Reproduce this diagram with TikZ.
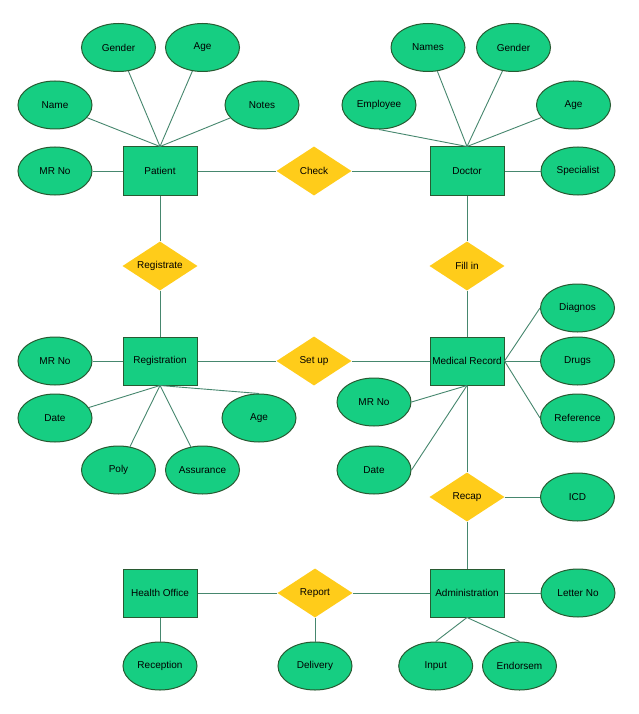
\documentclass[tikz,border=0pt]{standalone}
\usepackage{fontspec}
\setmainfont{Liberation Sans}
\usetikzlibrary{shapes.geometric}
\definecolor{entfill}{RGB}{22,206,130}
\definecolor{entline}{RGB}{40,90,50}
\definecolor{relfill}{RGB}{255,204,26}
\definecolor{conn}{RGB}{70,135,110}
\tikzset{
  ent/.style={rectangle,draw=entline,fill=entfill,line width=1pt,minimum width=74pt,minimum height=48pt,inner sep=0pt,font=\fontsize{10}{12}\selectfont},
  attr/.style={ellipse,draw=entline,fill=entfill,line width=1pt,minimum width=74pt,minimum height=48pt,inner sep=0pt,font=\fontsize{10}{12}\selectfont},
  rel/.style={diamond,fill=relfill,draw=none,minimum width=75pt,minimum height=49pt,inner sep=0pt,aspect=1.53,font=\fontsize{10}{12}\selectfont},
  con/.style={draw=conn,line width=0.9pt}
}
\begin{document}
\begin{tikzpicture}[x=1pt,y=-1pt]
\useasboundingbox[fill=white] (0,0) rectangle (638,714);
% entities
\node[ent] (patient) at (160,171) {Patient};
\node[ent] (doctor) at (467,171) {Doctor};
\node[ent] (registration) at (160,361) {Registration};
\node[ent] (medrec) at (467,361) {Medical Record};
\node[ent] (health) at (160,593) {Health Office};
\node[ent] (admin) at (467,593) {Administration};
% relationships
\node[rel] (check) at (314,171) {Check};
\node[rel] (registrate) at (160,266) {Registrate};
\node[rel] (fillin) at (467,266) {Fill in};
\node[rel] (setup) at (314,361) {Set up};
\node[rel] (recap) at (467,497) {Recap};
\node[rel] (report) at (315,593) {Report};
% patient attributes
\node[attr] (pgender) at (118.5,47.5) {Gender};
\node[attr] (page) at (202.5,47.5) {Age};
\node[attr] (pname) at (55,105) {Name};
\node[attr] (pnotes) at (262,105) {Notes};
\node[attr] (pmrno) at (55,171) {MR No};
% doctor attributes
\node[attr] (dnames) at (428,47.5) {Names};
\node[attr] (dgender) at (513.5,47.5) {Gender};
\node[attr] (demployee) at (379,105) {Employee};
\node[attr] (dage) at (573.5,105) {Age};
\node[attr] (dspec) at (578,171) {Specialist};
% registration attributes
\node[attr] (rmrno) at (55,361) {MR No};
\node[attr] (rdate) at (55,418) {Date};
\node[attr] (rpoly) at (118.5,470) {Poly};
\node[attr] (rassur) at (202.5,470) {Assurance};
\node[attr] (rage) at (259,418) {Age};
% medical record attributes
\node[attr] (mdiag) at (577.5,308) {Diagnos};
\node[attr] (mdrugs) at (577.5,361) {Drugs};
\node[attr] (mref) at (577.5,418) {Reference};
\node[attr] (mmrno) at (374,402) {MR No};
\node[attr] (mdate) at (374,470) {Date};
\node[attr] (icd) at (577.5,497) {ICD};
% bottom attributes
\node[attr] (letter) at (578,593) {Letter No};
\node[attr] (reception) at (160,666) {Reception};
\node[attr] (delivery) at (315,666) {Delivery};
\node[attr] (input) at (435.7,666) {Input};
\node[attr] (endorse) at (519.5,666) {Endorsem};
% connectors
\begin{scope}[on background layer/.try]
\end{scope}
\draw[con] (pgender) -- (patient.north);
\draw[con] (page) -- (patient.north);
\draw[con] (pname) -- (patient.north);
\draw[con] (pnotes) -- (patient.north);
\draw[con] (pmrno) -- (patient);
\draw[con] (patient) -- (check);
\draw[con] (check) -- (doctor);
\draw[con] (demployee.south) -- (doctor.north);
\draw[con] (dnames) -- (doctor.north);
\draw[con] (dgender) -- (doctor.north);
\draw[con] (dage) -- (doctor.north);
\draw[con] (doctor) -- (dspec);
\draw[con] (patient) -- (registrate);
\draw[con] (registrate) -- (registration);
\draw[con] (doctor) -- (fillin);
\draw[con] (fillin) -- (medrec);
\draw[con] (rmrno) -- (registration);
\draw[con] (registration) -- (setup);
\draw[con] (setup) -- (medrec);
\draw[con] (rdate) -- (registration.south);
\draw[con] (rpoly) -- (registration.south);
\draw[con] (rassur) -- (registration.south);
\draw[con] (rage.north) -- (registration.south);
\draw[con] (medrec.east) -- (mdiag.west);
\draw[con] (medrec) -- (mdrugs);
\draw[con] (medrec.east) -- (mref.west);
\draw[con] (mmrno.east) -- (medrec.south);
\draw[con] (mdate.east) -- (medrec.south);
\draw[con] (medrec) -- (recap);
\draw[con] (recap) -- (icd);
\draw[con] (recap) -- (admin);
\draw[con] (admin) -- (letter);
\draw[con] (admin) -- (report);
\draw[con] (report) -- (health);
\draw[con] (health) -- (reception);
\draw[con] (report) -- (delivery);
\draw[con] (admin.south) -- (input.north);
\draw[con] (admin.south) -- (endorse.north);
\end{tikzpicture}
\end{document}
